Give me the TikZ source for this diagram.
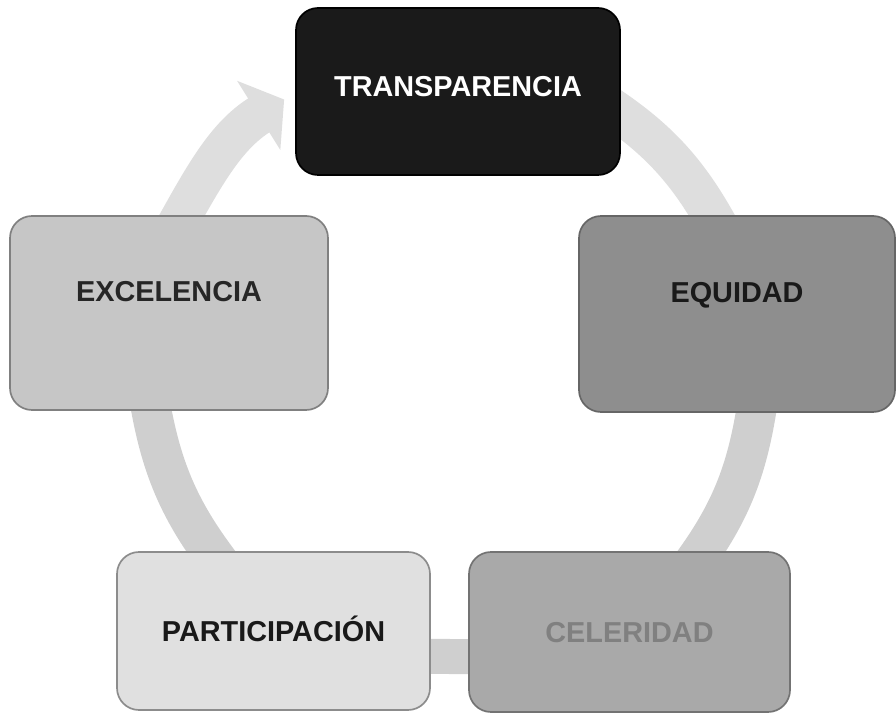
\documentclass[tikz,border=0pt]{standalone}
\usepackage{fontspec}
\setmainfont{Liberation Sans}
\usepackage{xcolor}
\usetikzlibrary{positioning}
\usetikzlibrary{arrows.meta}
\usetikzlibrary{backgrounds}
\newcommand\pxu{0.025cm}
\definecolor{ringgray}{HTML}{CFCFCF}
\definecolor{ringlight}{HTML}{DEDEDE}
\definecolor{boxblack}{HTML}{1A1A1A}
\definecolor{boxmid}{HTML}{8E8E8E}
\definecolor{boxcel}{HTML}{A9A9A9}
\definecolor{boxpart}{HTML}{E0E0E0}
\definecolor{boxexc}{HTML}{C6C6C6}
\tikzset{
    cyclebox/.style = {rectangle, rounded corners=0.55cm, inner sep=0pt, line width=1.2pt,
        font=\fontsize{20.5}{24}\selectfont\bfseries, text height=15pt, text depth=0pt},
    ring/.style = {line width=1cm, draw=ringgray},
}

\begin{document}
\begin{tikzpicture}[x=\pxu,y=\pxu]
         \useasboundingbox (0,0) rectangle (896,712);
         % --- Boxes
         \node[cyclebox, fill=boxblack, draw=black, text=white, text depth=8.5pt,
               minimum width=324*\pxu, minimum height=167*\pxu] (transp) at (458,620.5) {TRANSPARENCIA};
         \node[cyclebox, fill=boxmid, draw=black!60, text=black!90, text depth=31pt,
               minimum width=316*\pxu, minimum height=196*\pxu] (equidad) at (737,398) {EQUIDAD};
         \node[cyclebox, fill=boxcel, draw=black!55, text=black!50,
               minimum width=321*\pxu, minimum height=160*\pxu] (celeridad) at (629.5,80) {CELERIDAD};
         \node[cyclebox, fill=boxpart, draw=black!45, text=black!90,
               minimum width=313*\pxu, minimum height=158*\pxu] (particip) at (273.5,81) {PARTICIPACIÓN};
         \node[cyclebox, fill=boxexc, draw=black!50, text=black!85, text depth=31pt,
               minimum width=318*\pxu, minimum height=194*\pxu] (excel) at (169,399) {EXCELENCIA};
         % --- Cycle arrows
         \begin{scope}[on background layer]
         \draw[ring, draw=ringlight] ([xshift=-30*\pxu, yshift=-3*\pxu]transp.east) to[out=-32, in=118] ([xshift=-14*\pxu, yshift=-20*\pxu]equidad.north);
         \draw[ring] ([xshift=22*\pxu, yshift=20*\pxu]equidad.south) to[out=-98, in=53] ([xshift=58*\pxu, yshift=-20*\pxu]celeridad.north);
         \draw[ring, line width=0.875cm] ([xshift=20*\pxu, yshift=-25*\pxu]celeridad.west) -- ([xshift=-20*\pxu, yshift=-25*\pxu]particip.east);
         \draw[ring] ([xshift=-48*\pxu, yshift=-20*\pxu]particip.north) to[out=128, in=-81] ([xshift=-21*\pxu, yshift=20*\pxu]excel.south);
         \draw[ring, draw=ringlight, -{Triangle[length=0.75cm, width=2cm]}] ([xshift=2*\pxu, yshift=-20*\pxu]excel.north) to[out=61, in=212] ([xshift=-11*\pxu, yshift=-8*\pxu]transp.west);
         \end{scope}
\end{tikzpicture}
\end{document}
